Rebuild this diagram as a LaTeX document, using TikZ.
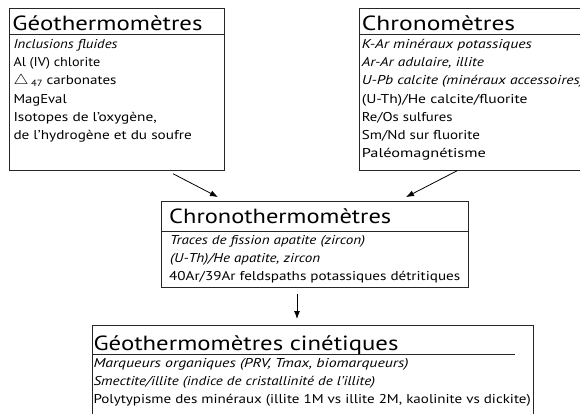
\documentclass[tikz,border=0pt]{standalone}
\usepackage{fontspec}
\usepackage{graphicx}
\setmainfont{PT Sans}
\usetikzlibrary{arrows.meta}
\newcommand\fw[2]{\resizebox{#1pt}{\height}{#2}}
\tikzset{
  box/.style={draw=black!85, line width=0.8pt, inner sep=0pt, anchor=north west},
  sep/.style={draw=black!85, line width=0.8pt},
  ttl/.style={anchor=base west, inner sep=0pt, font=\fontsize{20.5}{22}\selectfont},
  txt/.style={anchor=base west, inner sep=0pt, font=\fontsize{12.8}{14}\selectfont},
  itx/.style={txt, font=\fontsize{12.8}{14}\selectfont\itshape},
  arr/.style={draw=black, line width=0.8pt, -{Latex[length=8pt,width=6pt]}}
}
\begin{document}
\begin{tikzpicture}[x=1pt,y=-1pt]
\useasboundingbox (0,0) rectangle (580,414);
\clip (0,0) rectangle (580,414);
% boxes
\node[box, minimum width=215pt, minimum height=162pt] (geo) at (9,8) {};
\node[box, minimum width=230pt, minimum height=162pt] (chr) at (359,8) {};
\node[box, minimum width=307pt, minimum height=86pt] (cth) at (161,201) {};
\node[box, minimum width=441pt, minimum height=100pt] (cin) at (92,325) {};
% separators
\draw[sep] (geo.west |- 0,34) -- (geo.east |- 0,34);
\draw[sep] (chr.west |- 0,34) -- (chr.east |- 0,34);
\draw[sep] (cth.west |- 0,231) -- (cth.east |- 0,231);
\draw[sep] (cin.west |- 0,354) -- (515,354);
% box 1
\node[ttl] (t1) at (12.3,31) {\fw{190}{Géothermomètres}};
\node[itx] (g1) at (13.3,48.5) {\fw{104}{Inclusions fluides}};
\node[txt] (g2) at (13.3,66.5) {\fw{86.7}{Al (IV) chlorite}};
\node[txt] (g3) at (13.3,85) {\fw{103}{{\fontsize{15}{15}\selectfont$\triangle$}\,{\fontsize{9}{9}\selectfont\raisebox{-1.5pt}{47}} carbonates}};
\node[txt] (g4) at (13.3,103.5) {\fw{53.3}{MagEval}};
\node[txt] (g5) at (13.3,121.5) {\fw{143.3}{Isotopes de l’oxygène,}};
\node[txt] (g6) at (13.3,140) {\fw{178.3}{de l’hydrogène et du soufre}};
% box 2
\node[ttl] (t2) at (361.7,31) {\fw{153.3}{Chronomètres}};
\node[itx] (c1) at (361.7,48.5) {\fw{170}{K-Ar minéraux potassiques}};
\node[itx] (c2) at (361.7,66.5) {\fw{122}{Ar-Ar adulaire, illite}};
\node[itx] (c3) at (361.7,85) {\fw{222}{U-Pb calcite (minéraux accessoires)}};
\node[txt] (c4) at (361.7,103.5) {\fw{165.7}{(U-Th)/He calcite/fluorite}};
\node[txt] (c5) at (361.7,121.5) {\fw{90.7}{Re/Os sulfures}};
\node[txt] (c6) at (361.7,140) {\fw{118}{Sm/Nd sur fluorite}};
\node[txt] (c7) at (361.7,158) {\fw{124}{Paléomagnétisme}};
% box 3
\node[ttl] (t3) at (169,223.3) {\fw{222}{Chronothermomètres}};
\node[itx] (h1) at (170,244) {\fw{195}{Traces de fission apatite (zircon)}};
\node[itx] (h2) at (170,262.5) {\fw{150}{(U-Th)/He apatite, zircon}};
\node[txt] (h3) at (169,280.7) {\fw{291}{40Ar/39Ar feldspaths potassiques détritiques}};
% box 4
\node[ttl] (t4) at (93.3,350) {\fw{305}{Géothermomètres cinétiques}};
\node[itx] (k1) at (93.3,367.5) {\fw{315}{Marqueurs organiques (PRV, Tmax, biomarqueurs)}};
\node[itx] (k2) at (93.3,385.5) {\fw{281.7}{Smectite/illite (indice de cristallinité de l’illite)}};
\node[txt] (k3) at (93.3,403.5) {\fw{437.3}{Polytypisme des minéraux (illite 1M vs illite 2M, kaolinite vs dickite)}};
% arrows
\draw[arr, shorten <=6.4pt, shorten >=8.5pt] ([xshift=158.4pt]geo.south west) -- ([xshift=64.5pt]cth.north west);
\draw[arr, shorten >=8.5pt] ([xshift=98pt]chr.south west) -- ([xshift=237.4pt]cth.north west);
\draw[arr, shorten <=6pt, shorten >=6pt] ([xshift=136pt]cth.south west) -- ([xshift=205pt]cin.north west);
\end{tikzpicture}
\end{document}
